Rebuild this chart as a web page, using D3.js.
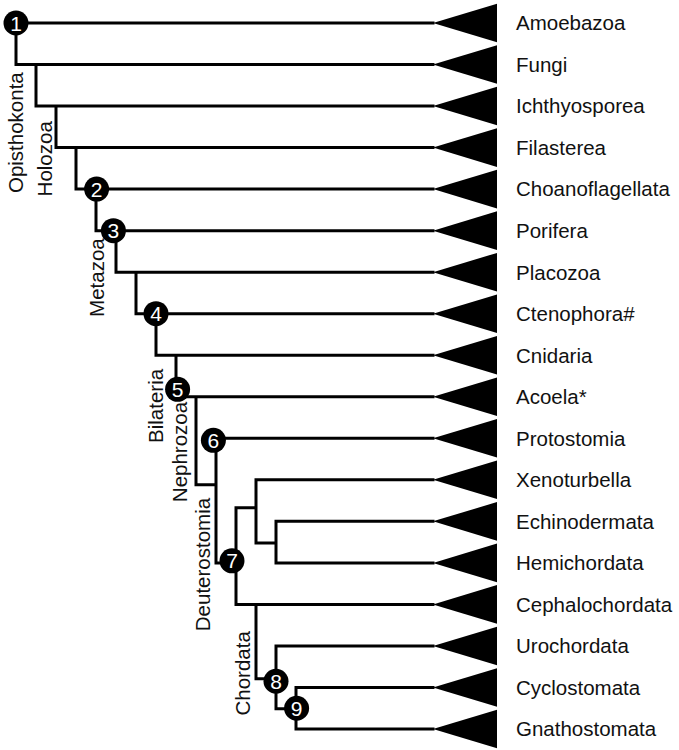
<!DOCTYPE html>
<html><head><meta charset="utf-8">
<script src="https://cdn.jsdelivr.net/npm/d3@7"></script>
<style>body{margin:0;background:#fff}svg{display:block}</style>
</head><body><svg id="chart" width="679" height="750"></svg>
<script>
// ---- data ----
const taxa = ["Amoebazoa","Fungi","Ichthyosporea","Filasterea","Choanoflagellata","Porifera","Placozoa","Ctenophora#","Cnidaria","Acoela*","Protostomia","Xenoturbella","Echinodermata","Hemichordata","Cephalochordata","Urochordata","Cyclostomata","Gnathostomata"];

// internal nodes of the cladogram
const nodeNames    = ["root","Opisthokonta","Holozoa","Filozoa","Choanozoa","Metazoa","cladeA","cladeB","cladeC","Bilateria","Nephrozoa","Deuterostomia","Xenambulacraria","Ambulacraria","Chordata","Olfactores","Vertebrata"];
const nodeDepths   = [0,1,2,3,4,5,6,7,8,9,10,11,12,13,12,13,14];
const nodeRows     = [0,1,2,3,4,5,6,7,8,9,11.12,13,11.67,12.52,14,15.79,16.51];
const nodeChildren = [
  ["Amoebazoa","Opisthokonta"],["Fungi","Holozoa"],["Ichthyosporea","Filozoa"],
  ["Filasterea","Choanozoa"],["Choanoflagellata","Metazoa"],["Porifera","cladeA"],
  ["Placozoa","cladeB"],["Ctenophora#","cladeC"],["Cnidaria","Bilateria"],
  ["Acoela*","Nephrozoa"],["Protostomia","Deuterostomia"],["Xenambulacraria","Chordata"],
  ["Xenoturbella","Ambulacraria"],["Echinodermata","Hemichordata"],
  ["Cephalochordata","Olfactores"],["Urochordata","Vertebrata"],["Cyclostomata","Gnathostomata"]
];

// numbered node markers
const markerLabels = ["1","2","3","4","5","6","7","8","9"];
const markerDepths = [0,4.03,4.87,7,8.08,9.87,10.8,13,14.03];
const markerRows   = [0,4,5,7,8.82,10.05,12.95,15.85,16.5];

// rotated clade names
const cladeLabels = ["Opisthokonta","Holozoa","Metazoa","Bilateria","Nephrozoa","Deuterostomia","Chordata"];
const cladeDepths = [0.35,1.8,4.4,7.35,8.55,9.7,11.7];
const cladeRows   = [2.64,3.27,6.13,9.22,10.33,13.04,15.66];

// ---- layout ----
const W = 679, H = 750;
const FONT = "'Liberation Sans', Arial, Helvetica, sans-serif";
const tipX = 433, triLen = 64, triHalf = 19.3, labelX = 516;

const svg = d3.select("#chart");
const x = d3.scaleLinear().domain([0, 14]).range([16, 296]);
const y = d3.scaleLinear().domain([0, taxa.length - 1]).range([23, 729]);

const info = {};
taxa.forEach((t, i) => info[t] = {leaf: true, row: i});
nodeNames.forEach((n, i) => info[n] = {leaf: false, row: nodeRows[i], depth: nodeDepths[i], children: nodeChildren[i]});

const gTree = svg.append("g")
  .attr("fill", "none").attr("stroke", "#000")
  .attr("stroke-width", 3).attr("stroke-linecap", "square");

const path = d3.path();
nodeNames.forEach((n) => {
  const nd = info[n];
  const nx = x(nd.depth);
  const [a, b] = nd.children.map(c => info[c]);
  path.moveTo(nx, y(a.row)); path.lineTo(nx, y(b.row));
  nd.children.forEach(c => {
    const cd = info[c];
    path.moveTo(nx, y(cd.row));
    path.lineTo(cd.leaf ? tipX : x(cd.depth), y(cd.row));
  });
});
gTree.append("path").attr("d", path.toString());

// collapsed-clade triangles
svg.append("g").selectAll("path").data(taxa).join("path")
  .attr("fill", "#000")
  .attr("d", (t, i) => {
    const p = d3.path(); const yy = y(i);
    p.moveTo(tipX, yy); p.lineTo(tipX + triLen, yy - triHalf);
    p.lineTo(tipX + triLen, yy + triHalf); p.closePath();
    return p.toString();
  });

// taxon labels
svg.append("g").selectAll("text").data(taxa).join("text")
  .attr("x", labelX).attr("y", (t, i) => y(i)).attr("dy", "0.36em")
  .attr("font-family", FONT).attr("font-size", 20.5).attr("fill", "#111")
  .text(t => t);

// rotated clade labels
svg.append("g").selectAll("text").data(cladeLabels).join("text")
  .attr("transform", (t, i) => `translate(${x(cladeDepths[i])},${y(cladeRows[i])}) rotate(-90)`)
  .attr("text-anchor", "middle")
  .attr("font-family", FONT).attr("font-size", 20.5).attr("fill", "#111")
  .text(t => t);

// numbered markers
const gm = svg.append("g").selectAll("g").data(markerLabels).join("g")
  .attr("transform", (t, i) => `translate(${x(markerDepths[i])},${y(markerRows[i])})`);
gm.append("circle").attr("r", 12.5).attr("fill", "#000");
gm.append("text").attr("text-anchor", "middle").attr("dy", "0.36em")
  .attr("font-family", FONT).attr("font-size", 21).attr("fill", "#fff")
  .text(t => t);
</script>
</body></html>
